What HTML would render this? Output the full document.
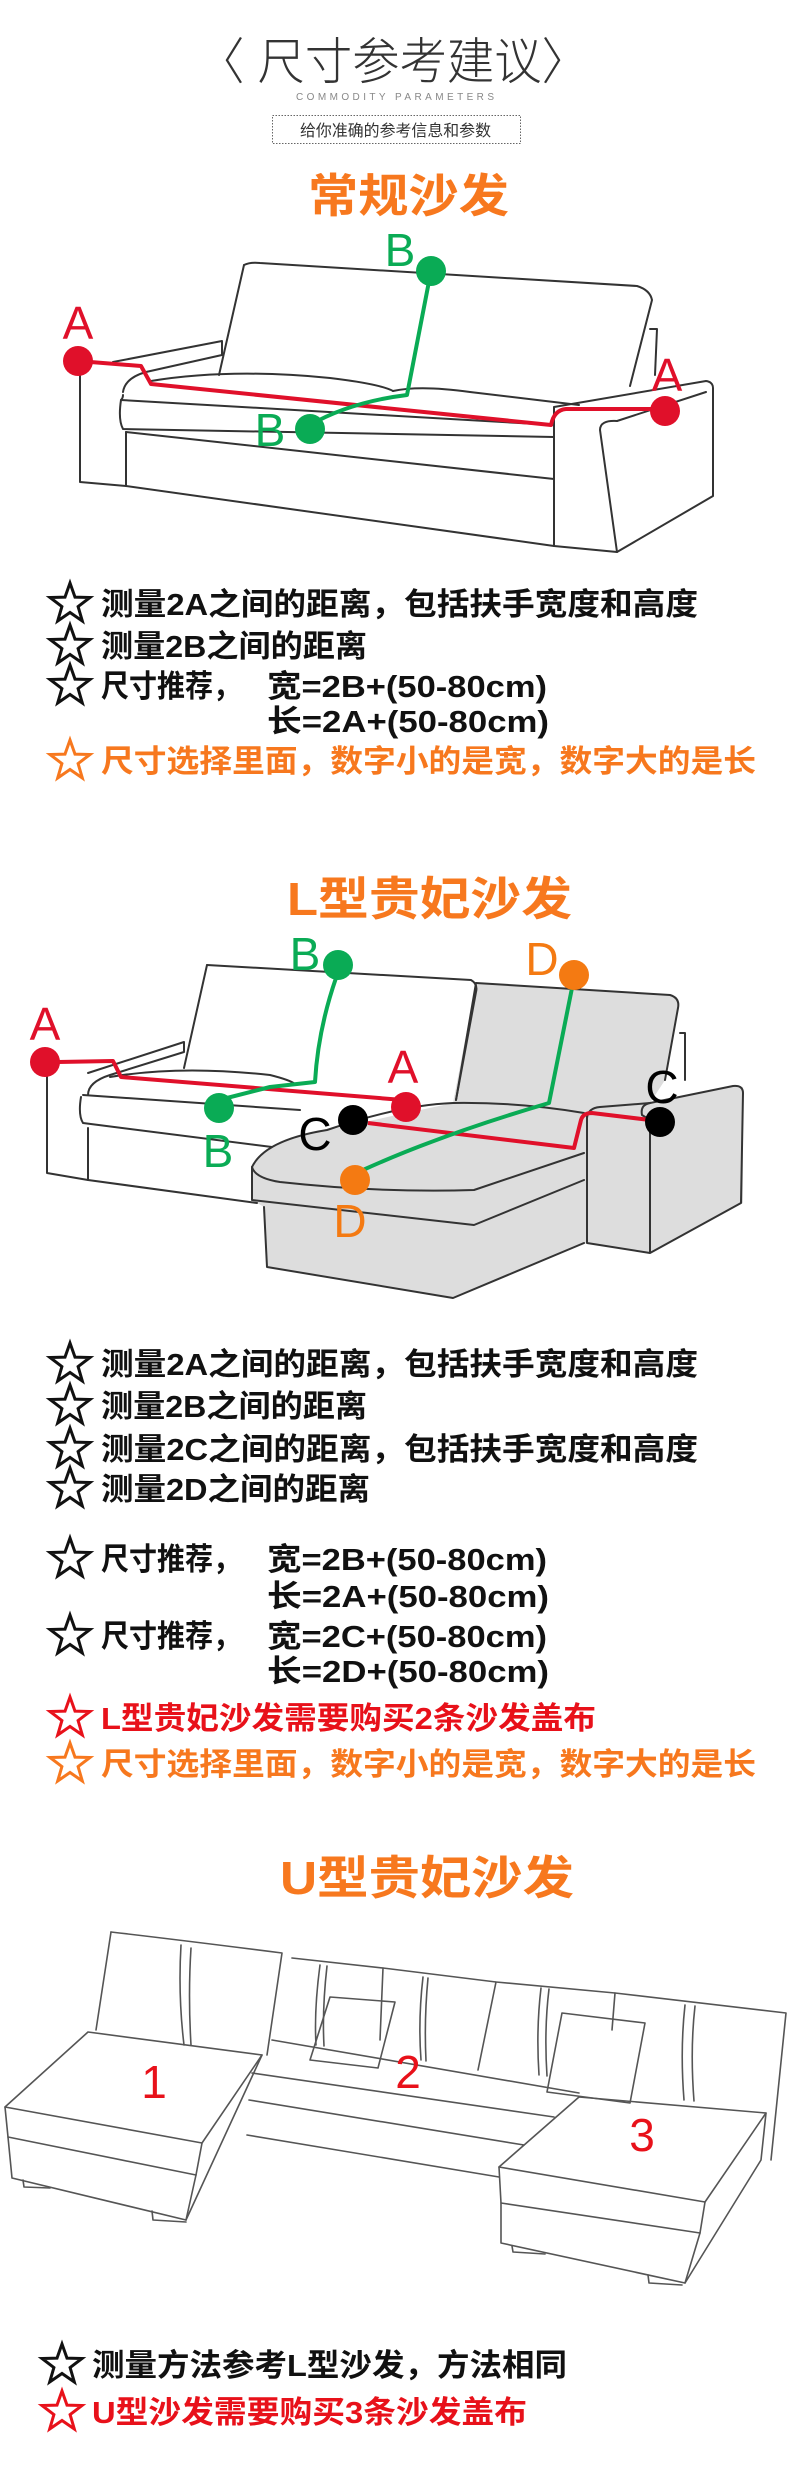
<!DOCTYPE html>
<html><head><meta charset="utf-8"><style>
html,body{margin:0;padding:0;background:#fff}
svg{display:block}
.cj{font-family:"Liberation Sans","Noto Sans CJK SC",sans-serif}
.sk{fill:none;stroke:#333;stroke-width:2;stroke-linejoin:round;stroke-linecap:round}
.sk2{fill:none;stroke:#555;stroke-width:1.6;stroke-linejoin:round;stroke-linecap:round}
.lt{font-family:"Liberation Sans","Noto Sans CJK SC",sans-serif;font-size:31px;font-weight:bold}
.lb{font-family:"Liberation Sans",sans-serif;font-size:46px;text-anchor:middle}
</style></head><body>
<svg width="790" height="2468" viewBox="0 0 790 2468" xmlns="http://www.w3.org/2000/svg">
<defs>
<polygon id="st" points="0,-21 5,-6.9 20,-6.5 8.1,2.6 12.3,17 0,8.5 -12.3,17 -8.1,2.6 -20,-6.5 -5,-6.9" fill="none" stroke-width="3" stroke-linejoin="miter"/>
</defs>

<!-- header -->
<text x="197" y="79" class="cj" font-size="50" font-weight="300" fill="#333" textLength="392" lengthAdjust="spacingAndGlyphs">〈 尺寸参考建议〉</text>
<text x="296" y="100" font-family="Liberation Sans,sans-serif" font-size="10" fill="#888" textLength="198" lengthAdjust="spacing">COMMODITY PARAMETERS</text>
<rect x="272.5" y="115.5" width="248" height="28" fill="none" stroke="#666" stroke-width="1" stroke-dasharray="1.5,1.5"/>
<text x="300" y="136" class="cj" font-size="16" fill="#333" textLength="191" lengthAdjust="spacingAndGlyphs">给你准确的参考信息和参数</text>

<text x="308" y="212" class="cj" font-size="46" font-weight="bold" fill="#f7781e" textLength="201" lengthAdjust="spacingAndGlyphs">常规沙发</text>

<!-- sofa 1 -->
<g class="sk">
<path d="M244,265 Q250,262 260,263 L637,286 Q650,290 652,300 L630,386"/>
<path d="M244,265 L219,375"/>
<path d="M650,329 L657,329 L655,375"/>
<path d="M113,362 L222,341 L222,355 L146,372 Q125,378 123,392"/>
<path d="M80,368 L80,482 L126,486 L554,546"/>
<path d="M126,432 L126,486"/>
<path d="M151,381 Q230,368 330,378 Q380,384 393,391"/>
<path d="M393,391 Q420,385 470,392 L579,405"/>
<path d="M121,400 Q118,420 123,429 L554,437"/>
<path d="M123,395 Q123,398 121,400 L554,425"/>
<path d="M126,432 L554,479"/>
<path d="M554,407 L706,381 Q713,382 713,388 L713,496 L617,552 L554,546 L554,407"/>
<path d="M617,421 Q600,420 600,430 L617,552"/>
<path d="M617,421 L706,392"/>
</g>
<path d="M78,361 L141,366 L151,384 L551,425 Q554,410 566,409 L665,409" fill="none" stroke="#e0102a" stroke-width="4" stroke-linejoin="round"/>
<path d="M431,271 L407,395 Q350,402 310,425" fill="none" stroke="#0aab55" stroke-width="4" stroke-linejoin="round"/>
<circle cx="78" cy="361" r="15" fill="#e0102a"/>
<circle cx="665" cy="411" r="15" fill="#e0102a"/>
<circle cx="431" cy="271" r="15" fill="#0aab55"/>
<circle cx="310" cy="429" r="15" fill="#0aab55"/>
<text x="78" y="339" class="lb" fill="#e0102a">A</text>
<text x="667" y="391" class="lb" fill="#e0102a">A</text>
<text x="400" y="266" class="lb" fill="#0aab55">B</text>
<text x="270" y="446" class="lb" fill="#0aab55">B</text>

<!-- section 1 text -->
<use href="#st" x="70" y="604" stroke="#111"/>
<text x="101" y="615" class="lt" fill="#111" textLength="597" lengthAdjust="spacingAndGlyphs">测量2A之间的距离，包括扶手宽度和高度</text>
<use href="#st" x="70" y="646" stroke="#111"/>
<text x="101" y="657" class="lt" fill="#111" textLength="266" lengthAdjust="spacingAndGlyphs">测量2B之间的距离</text>
<use href="#st" x="70" y="686" stroke="#111"/>
<text x="101" y="697" class="lt" fill="#111" textLength="140" lengthAdjust="spacingAndGlyphs">尺寸推荐，</text>
<text x="267" y="697" class="lt" fill="#111" textLength="280" lengthAdjust="spacingAndGlyphs">宽=2B+(50-80cm)</text>
<text x="267" y="732" class="lt" fill="#111" textLength="282" lengthAdjust="spacingAndGlyphs">长=2A+(50-80cm)</text>
<use href="#st" x="70" y="761" stroke="#f7781e"/>
<text x="101" y="772" class="lt" fill="#f7781e" textLength="655" lengthAdjust="spacingAndGlyphs">尺寸选择里面，数字小的是宽，数字大的是长</text>

<text x="287" y="915" class="cj" font-size="46" font-weight="bold" fill="#f7781e" textLength="285" lengthAdjust="spacingAndGlyphs">L型贵妃沙发</text>

<!-- L sofa -->
<path d="M476,983 L670,995 Q680,998 678,1008 L665,1080 L587,1113 L587,1243 L650,1253 L741,1203 L743,1090 Q743,1085 735,1086 L650,1103 L587,1113 M584,1113 L453,1103 L456,1100 Z" fill="#ddd"/>
<path d="M476,983 L670,995 Q680,998 678,1008 L665,1080 L650,1103 L587,1113 L453,1103 Z" fill="#ddd"/>
<path d="M252,1167 Q265,1140 327,1130 L453,1103 L587,1113 L587,1243 L453,1298 L267,1267 L264,1207 L252,1200 Z" fill="#ddd"/>
<path d="M587,1113 L650,1103 L743,1087 L743,1203 L650,1253 L587,1243 Z" fill="#ddd"/>
<g class="sk">
<path d="M207,965 L471,980 Q478,984 476,992 L456,1100"/>
<path d="M207,965 L184,1068"/>
<path d="M88,1073 L184,1042 L184,1052 L110,1075 Q88,1082 88,1095"/>
<path d="M47,1070 L47,1173 L88,1180 L257,1203"/>
<path d="M88,1128 L88,1180"/>
<path d="M110,1077 Q180,1065 270,1075 Q290,1080 295,1084"/>
<path d="M81,1097 Q78,1115 83,1123 L272,1147"/>
<path d="M83,1095 L300,1110"/>
<path d="M476,983 L670,995 Q680,998 678,1008 L665,1080"/>
<path d="M476,983 L456,1100"/>
<path d="M680,1033 L685,1033 L685,1080"/>
<path d="M252,1167 Q265,1140 327,1130 Q400,1105 453,1103 Q520,1102 584,1113"/>
<path d="M252,1167 Q255,1178 280,1182 Q380,1193 474,1190 L584,1153"/>
<path d="M252,1167 L252,1200 L474,1225 L584,1180"/>
<path d="M264,1207 L267,1267 L453,1298 L584,1243"/>
<path d="M587,1113 L587,1243 L650,1253 L741,1203 L743,1093 Q743,1085 733,1086 L650,1103 Q640,1105 642,1115 L650,1120 L650,1253"/>
<path d="M587,1118 Q588,1108 600,1107 L650,1103"/>
</g>
<path d="M58,1062 L113,1061 L121,1077 L403,1100" fill="none" stroke="#e0102a" stroke-width="4" stroke-linejoin="round"/>
<path d="M368,1123 L574,1148 L581,1120 Q583,1113 592,1113 L650,1120" fill="none" stroke="#e0102a" stroke-width="4" stroke-linejoin="round"/>
<path d="M336,978 Q318,1030 315,1082 L270,1087 L219,1100" fill="none" stroke="#0aab55" stroke-width="4" stroke-linejoin="round"/>
<path d="M572,988 L549,1103 Q440,1135 363,1170" fill="none" stroke="#0aab55" stroke-width="4" stroke-linejoin="round"/>
<circle cx="45" cy="1062" r="15" fill="#e0102a"/>
<circle cx="406" cy="1107" r="15" fill="#e0102a"/>
<circle cx="353" cy="1120" r="15" fill="#000"/>
<circle cx="660" cy="1122" r="15" fill="#000"/>
<circle cx="338" cy="965" r="15" fill="#0aab55"/>
<circle cx="219" cy="1108" r="15" fill="#0aab55"/>
<circle cx="574" cy="975" r="15" fill="#f47a12"/>
<circle cx="355" cy="1180" r="15" fill="#f47a12"/>
<text x="45" y="1040" class="lb" fill="#e0102a">A</text>
<text x="403" y="1083" class="lb" fill="#e0102a">A</text>
<text x="305" y="970" class="lb" fill="#0aab55">B</text>
<text x="218" y="1167" class="lb" fill="#0aab55">B</text>
<text x="542" y="975" class="lb" fill="#f47a12">D</text>
<text x="350" y="1237" class="lb" fill="#f47a12">D</text>
<text x="315" y="1150" class="lb" fill="#000">C</text>
<text x="662" y="1103" class="lb" fill="#000">C</text>

<!-- section 2 text -->
<use href="#st" x="70" y="1364" stroke="#111"/>
<text x="101" y="1375" class="lt" fill="#111" textLength="597" lengthAdjust="spacingAndGlyphs">测量2A之间的距离，包括扶手宽度和高度</text>
<use href="#st" x="70" y="1406" stroke="#111"/>
<text x="101" y="1417" class="lt" fill="#111" textLength="266" lengthAdjust="spacingAndGlyphs">测量2B之间的距离</text>
<use href="#st" x="70" y="1449" stroke="#111"/>
<text x="101" y="1460" class="lt" fill="#111" textLength="597" lengthAdjust="spacingAndGlyphs">测量2C之间的距离，包括扶手宽度和高度</text>
<use href="#st" x="70" y="1489" stroke="#111"/>
<text x="101" y="1500" class="lt" fill="#111" textLength="269" lengthAdjust="spacingAndGlyphs">测量2D之间的距离</text>
<use href="#st" x="70" y="1559" stroke="#111"/>
<text x="101" y="1570" class="lt" fill="#111" textLength="140" lengthAdjust="spacingAndGlyphs">尺寸推荐，</text>
<text x="267" y="1570" class="lt" fill="#111" textLength="280" lengthAdjust="spacingAndGlyphs">宽=2B+(50-80cm)</text>
<text x="267" y="1607" class="lt" fill="#111" textLength="282" lengthAdjust="spacingAndGlyphs">长=2A+(50-80cm)</text>
<use href="#st" x="70" y="1636" stroke="#111"/>
<text x="101" y="1647" class="lt" fill="#111" textLength="140" lengthAdjust="spacingAndGlyphs">尺寸推荐，</text>
<text x="267" y="1647" class="lt" fill="#111" textLength="280" lengthAdjust="spacingAndGlyphs">宽=2C+(50-80cm)</text>
<text x="267" y="1682" class="lt" fill="#111" textLength="282" lengthAdjust="spacingAndGlyphs">长=2D+(50-80cm)</text>
<use href="#st" x="70" y="1718" stroke="#e8111a"/>
<text x="101" y="1729" class="lt" fill="#e8111a" textLength="495" lengthAdjust="spacingAndGlyphs">L型贵妃沙发需要购买2条沙发盖布</text>
<use href="#st" x="70" y="1764" stroke="#f7781e"/>
<text x="101" y="1775" class="lt" fill="#f7781e" textLength="655" lengthAdjust="spacingAndGlyphs">尺寸选择里面，数字小的是宽，数字大的是长</text>

<text x="280" y="1894" class="cj" font-size="46" font-weight="bold" fill="#f7781e" textLength="294" lengthAdjust="spacingAndGlyphs">U型贵妃沙发</text>

<!-- U sofa -->
<g class="sk2">
<path d="M111,1932 Q180,1940 282,1953 L267,2055"/>
<path d="M111,1932 L96,2030"/>
<path d="M181,1945 Q178,1995 184,2045 M191,1948 Q188,1995 191,2045"/>
<path d="M292,1958 L383,1968 L496,1982 L615,1993 L786,2013 L771,2160"/>
<path d="M320,1965 Q314,2010 316,2045 M327,1966 Q322,2010 324,2046"/>
<path d="M423,1977 Q418,2020 421,2060 M428,1978 Q424,2020 426,2061"/>
<path d="M541,1988 Q536,2030 539,2075 M549,1989 Q544,2030 547,2076"/>
<path d="M685,2005 Q680,2050 684,2100 M695,2006 Q690,2050 694,2101"/>
<path d="M383,1968 L380,2040 M496,1982 L478,2070 M615,1993 L612,2030"/>
<path d="M330,1997 L395,2002 L378,2068 L310,2060 Z"/>
<path d="M562,2013 L645,2023 L630,2103 L547,2092 Z"/>
<path d="M5,2107 L88,2032 L262,2055 L202,2143 Z"/>
<path d="M5,2107 L8,2137 L196,2175 L202,2143"/>
<path d="M8,2137 L12,2178 L186,2220 L196,2175"/>
<path d="M262,2055 L186,2220"/>
<path d="M23,2180 L24,2187 L50,2188 M152,2211 L153,2220 L186,2222"/>
<path d="M272,2040 L579,2093"/>
<path d="M252,2073 L554,2117"/>
<path d="M249,2100 L524,2145"/>
<path d="M247,2135 L499,2177"/>
<path d="M579,2097 L766,2113 L705,2202 L499,2167 Z"/>
<path d="M499,2167 L501,2203 L700,2233 L705,2202"/>
<path d="M501,2203 L501,2243 L685,2283 L700,2233"/>
<path d="M766,2113 L761,2160 L685,2283"/>
<path d="M512,2246 L513,2252 L545,2254 M648,2275 L649,2283 L682,2285"/>
</g>
<text x="154" y="2098" class="lb" fill="#e8111a">1</text>
<text x="408" y="2088" class="lb" fill="#e8111a">2</text>
<text x="642" y="2151" class="lb" fill="#e8111a">3</text>

<!-- section 3 text -->
<use href="#st" x="62" y="2365" stroke="#111"/>
<text x="92" y="2376" class="lt" fill="#111" textLength="475" lengthAdjust="spacingAndGlyphs">测量方法参考L型沙发，方法相同</text>
<use href="#st" x="62" y="2412" stroke="#e8111a"/>
<text x="92" y="2423" class="lt" fill="#e8111a" textLength="435" lengthAdjust="spacingAndGlyphs">U型沙发需要购买3条沙发盖布</text>
</svg>
</body></html>
